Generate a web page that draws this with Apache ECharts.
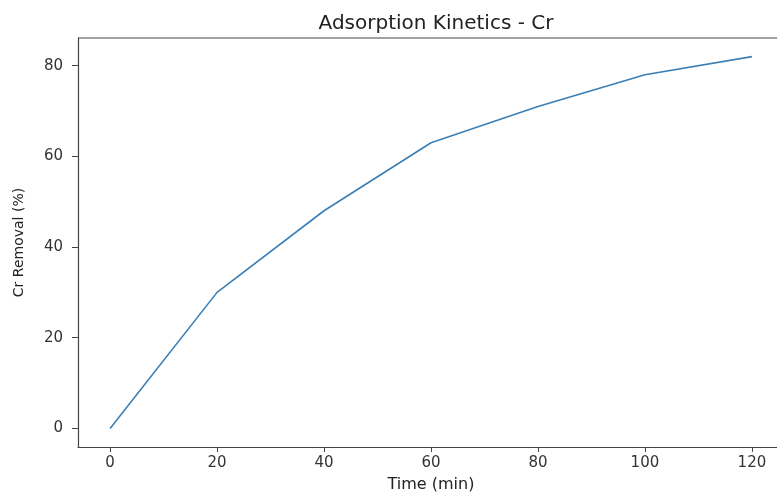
<!DOCTYPE html>
<html>
<head>
<meta charset="utf-8">
<script src="https://cdn.jsdelivr.net/npm/echarts@6/dist/echarts.min.js"></script>
<style>
  html, body { margin: 0; padding: 0; background: #fff; }
  #chart { width: 777px; height: 493px; }
</style>
</head>
<body>
<div id="chart"></div>
<script>
  // data
  const timeMin = [0, 20, 40, 60, 80, 100, 120]
  const crRemoval = [0, 30, 48, 63, 71, 78, 82]
  const xTicks = [0, 20, 40, 60, 80, 100, 120]
  const yTicks = [0, 20, 40, 60, 80]

  const font = 'DejaVu Sans'
  const axisColor = '#444'

  let chart = echarts.init(document.getElementById('chart'))
  chart.setOption({
    animation: false,
    title: {
      text: 'Adsorption Kinetics - Cr',
      left: 431,
      textAlign: 'center',
      top: 9,
      textStyle: { fontFamily: font, fontSize: 20, fontWeight: 'normal', color: '#222' }
    },
    grid: { left: 78, top: 38, width: 706, height: 409, outerBoundsMode: 'none', containLabel: false },
    xAxis: {
      type: 'value',
      min: -6,
      max: 126,
      name: 'Time (min)',
      nameLocation: 'middle',
      nameGap: 30,
      nameTextStyle: { fontFamily: font, fontSize: 16, color: '#222' },
      axisLine: { show: true, onZero: false, lineStyle: { color: axisColor, width: 1.2 } },
      axisTick: { show: true, length: 5, customValues: xTicks, lineStyle: { color: axisColor } },
      axisLabel: { customValues: xTicks, fontFamily: font, fontSize: 15, color: '#333', margin: 9 },
      splitLine: { show: false }
    },
    yAxis: {
      type: 'value',
      min: -4.1,
      max: 86.1,
      name: 'Cr Removal (%)',
      nameLocation: 'middle',
      nameGap: 52,
      nameTextStyle: { fontFamily: font, fontSize: 14, color: '#222' },
      axisLine: { show: true, onZero: false, lineStyle: { color: axisColor, width: 1.2 } },
      axisTick: { show: true, length: 6, customValues: yTicks, lineStyle: { color: axisColor } },
      axisLabel: { customValues: yTicks, fontFamily: font, fontSize: 15, color: '#333', margin: 15 },
      splitLine: { show: false }
    },
    series: [{
      type: 'line',
      data: timeMin.map(function (t, i) { return [t, crRemoval[i]] }),
      showSymbol: false,
      lineStyle: { color: '#3b7fb5', width: 1.6 }
    }]
  })
  // top spine like matplotlib
  chart.setOption({
    graphic: [{
      type: 'line',
      shape: { x1: 78, y1: 38, x2: 784, y2: 38 },
      style: { stroke: axisColor, lineWidth: 1.2 }
    }]
  })
</script>
</body>
</html>
